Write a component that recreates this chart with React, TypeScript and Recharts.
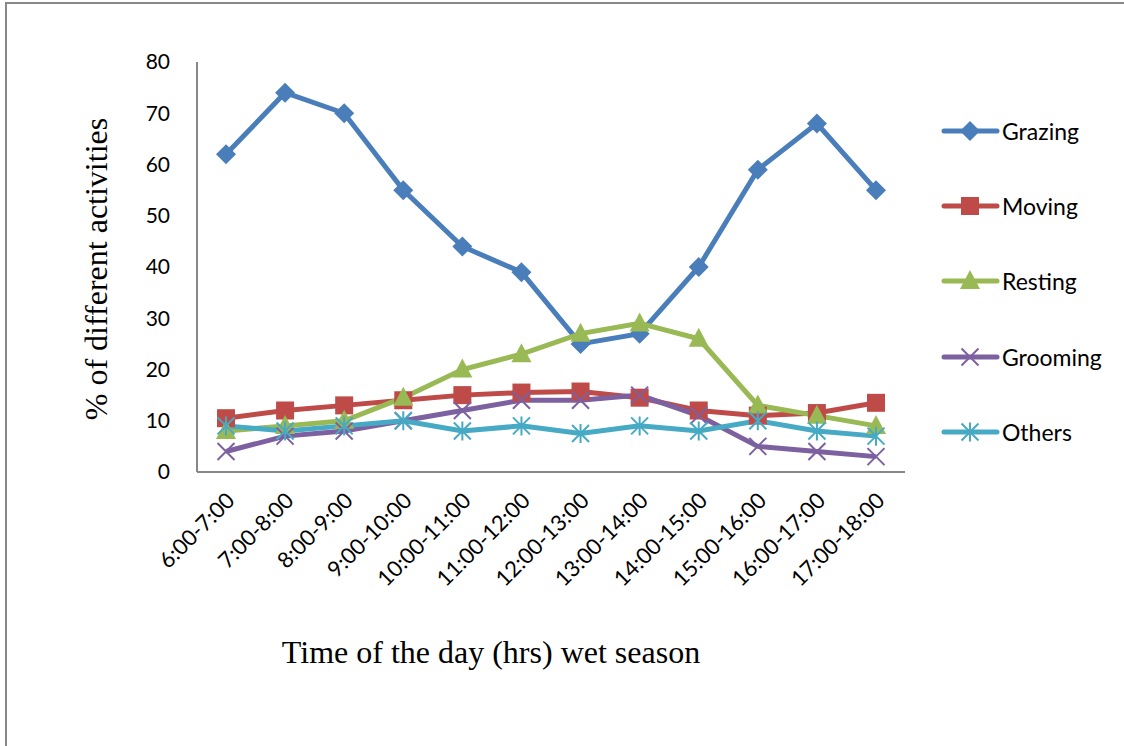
import React from "react";
import { LineChart, Line, XAxis, YAxis } from "recharts";

const categories = [
  "6:00-7:00",
  "7:00-8:00",
  "8:00-9:00",
  "9:00-10:00",
  "10:00-11:00",
  "11:00-12:00",
  "12:00-13:00",
  "13:00-14:00",
  "14:00-15:00",
  "15:00-16:00",
  "16:00-17:00",
  "17:00-18:00",
];

const grazing = [62, 74, 70, 55, 44, 39, 25, 27, 40, 59, 68, 55];
const moving = [10.5, 12, 13, 14, 15, 15.5, 15.7, 14.5, 12, 11, 11.5, 13.5];
const resting = [8, 9, 10, 14.5, 20, 23, 27, 29, 26, 13, 11, 9];
const grooming = [4, 7, 8, 10, 12, 14, 14, 15, 11, 5, 4, 3];
const others = [9, 8, 9, 10, 8, 9, 7.5, 9, 8, 10, 8, 7];

const yTicks = [0, 10, 20, 30, 40, 50, 60, 70, 80];

const data = categories.map((time, i) => ({
  time,
  Grazing: grazing[i],
  Moving: moving[i],
  Resting: resting[i],
  Grooming: grooming[i],
  Others: others[i],
}));

type Shape = "diamond" | "square" | "triangle" | "x" | "star";

const series: { key: string; color: string; shape: Shape }[] = [
  { key: "Grazing", color: "#4a7ebb", shape: "diamond" },
  { key: "Moving", color: "#be4b48", shape: "square" },
  { key: "Resting", color: "#98b954", shape: "triangle" },
  { key: "Grooming", color: "#7d60a0", shape: "x" },
  { key: "Others", color: "#46aac5", shape: "star" },
];

const MarkerShape = ({ cx, cy, color, shape }: { cx: number; cy: number; color: string; shape: Shape }) => {
  if (shape === "diamond") {
    const r = 10;
    return <path d={`M${cx},${cy - r}L${cx + r},${cy}L${cx},${cy + r}L${cx - r},${cy}Z`} fill={color} />;
  }
  if (shape === "square") {
    const r = 9;
    return <rect x={cx - r} y={cy - r} width={r * 2} height={r * 2} fill={color} />;
  }
  if (shape === "triangle") {
    return <path d={`M${cx},${cy - 11}L${cx + 10},${cy + 8}L${cx - 10},${cy + 8}Z`} fill={color} />;
  }
  if (shape === "x") {
    const r = 8.5;
    return (
      <path
        d={`M${cx - r},${cy - r}L${cx + r},${cy + r}M${cx - r},${cy + r}L${cx + r},${cy - r}`}
        stroke={color}
        strokeWidth={2}
      />
    );
  }
  const r = 8.5;
  return (
    <path
      d={`M${cx - r},${cy - r}L${cx + r},${cy + r}M${cx - r},${cy + r}L${cx + r},${cy - r}M${cx},${cy - r - 1}L${cx},${cy + r + 1}`}
      stroke={color}
      strokeWidth={2}
    />
  );
};

const XTick = (props: any) => {
  const { x, y, payload } = props;
  const ax = x + 10;
  const ay = y + 22;
  return (
    <text
      x={ax}
      y={ay}
      textAnchor="end"
      fontFamily="Lato"
      fontSize={22}
      fill="#000"
      transform={`rotate(-45, ${ax}, ${ay})`}
    >
      {payload.value}
    </text>
  );
};

const LegendBox = () => (
  <div
    style={{
      position: "absolute",
      left: 940,
      top: 93,
      fontFamily: "Lato",
      fontSize: 23,
      color: "#000",
    }}
  >
    {series.map((s) => (
      <div key={s.key} style={{ display: "flex", alignItems: "center", height: 75.3 }}>
        <svg width={60} height={24}>
          <line x1={4} y1={12} x2={57} y2={12} stroke={s.color} strokeWidth={5} strokeLinecap="round" />
          <MarkerShape cx={30} cy={12} color={s.color} shape={s.shape} />
        </svg>
        <span style={{ marginLeft: 2 }}>{s.key}</span>
      </div>
    ))}
  </div>
);

export default function App() {
  return (
    <div style={{ position: "absolute", left: 0, top: 0, width: 1124, height: 746, background: "#fff" }}>
      <div
        style={{
          position: "absolute",
          left: 5,
          top: 2,
          width: 1119,
          height: 744,
          borderTop: "2px solid #888",
          borderLeft: "2px solid #888",
        }}
      />
      <LineChart
        width={1124}
        height={746}
        data={data}
        margin={{ top: 62, right: 219, bottom: 0, left: 0 }}
      >
        <XAxis
          dataKey="time"
          interval={0}
          height={274}
          padding={{ left: 29, right: 29 }}
          tickLine={false}
          stroke="#888"
          strokeWidth={2}
          tick={<XTick />}
          label={{
            value: "Time of the day (hrs) wet season",
            position: "insideTop",
            offset: 168,
            dx: -60,
            style: { fontFamily: "Liberation Serif", fontSize: 32, fill: "#000" },
          }}
        />
        <YAxis
          domain={[0, 80]}
          ticks={yTicks}
          width={197}
          tickLine={false}
          tickSize={0}
          tickMargin={27}
          stroke="#888"
          strokeWidth={2}
          tick={{ fontFamily: "Lato", fontSize: 21, fill: "#000" }}
          label={{
            value: "% of different activities",
            angle: -90,
            position: "insideLeft",
            offset: 96,
            dy: 2,
            style: { fontFamily: "Liberation Serif", fontSize: 32, fill: "#000", textAnchor: "middle" },
          }}
        />
        {series.map((s) => (
          <Line
            key={s.key}
            type="linear"
            dataKey={s.key}
            stroke={s.color}
            strokeWidth={5}
            isAnimationActive={false}
            dot={(p: any) => (
              <MarkerShape key={`${s.key}-${p.index}`} cx={p.cx} cy={p.cy} color={s.color} shape={s.shape} />
            )}
            activeDot={false}
          />
        ))}
      </LineChart>
      <LegendBox />
    </div>
  );
}
